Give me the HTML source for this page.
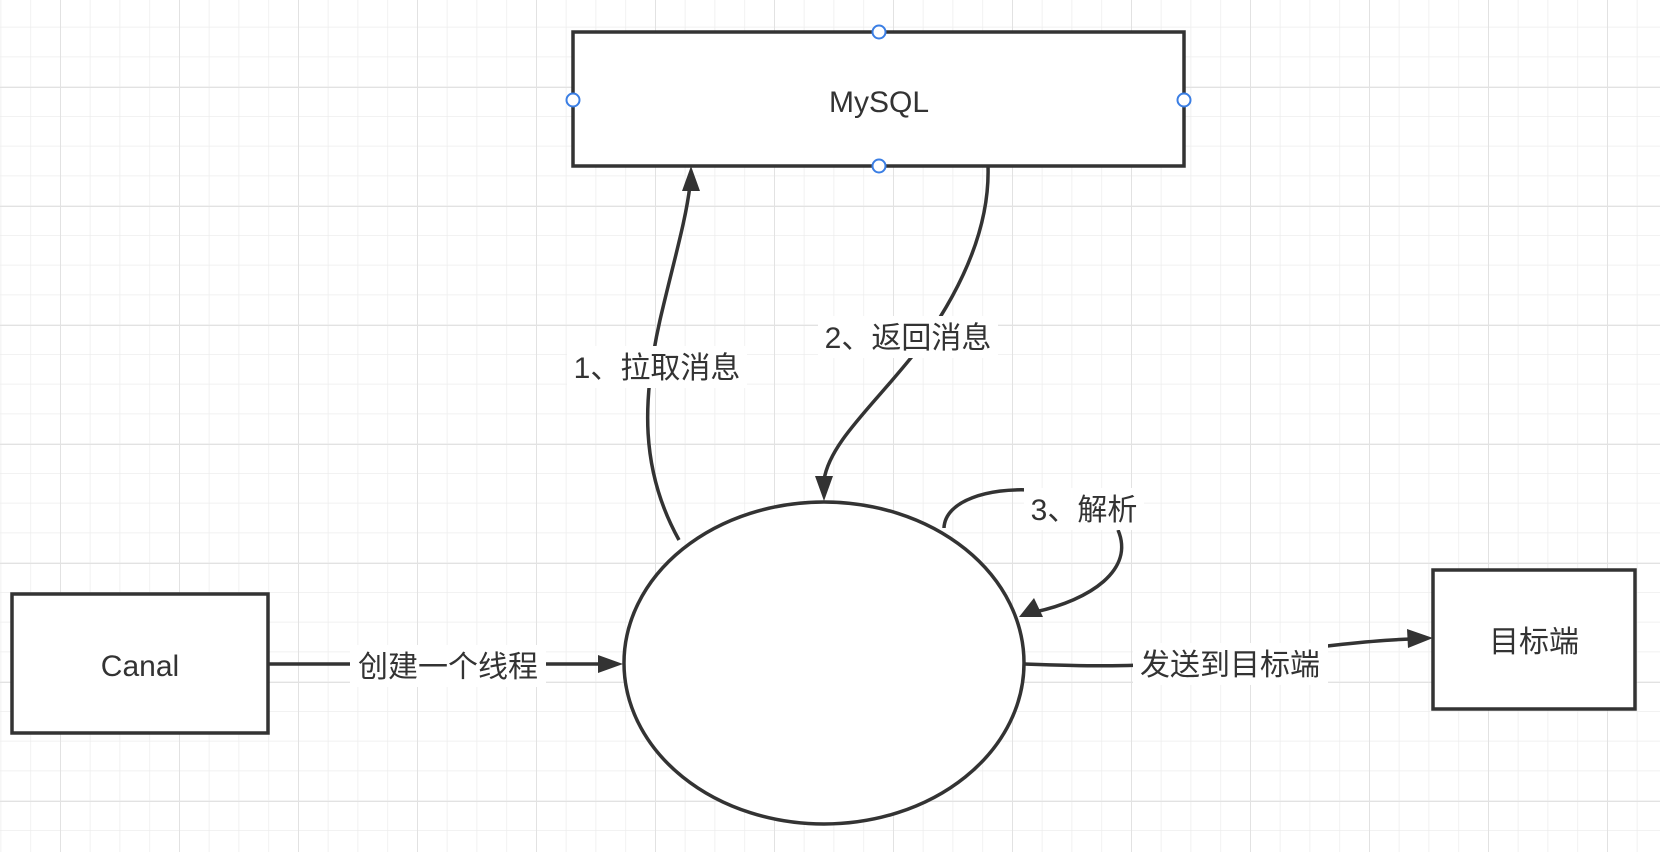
<!DOCTYPE html>
<html><head><meta charset="utf-8"><style>
html,body{margin:0;padding:0;width:1660px;height:852px;overflow:hidden;background:#fff}
svg{display:block}
text{font-family:"Liberation Sans","Noto Sans CJK SC",sans-serif;fill:#333;font-size:30px}
</style></head><body>
<svg width="1660" height="852" viewBox="0 0 1660 852" xmlns="http://www.w3.org/2000/svg">
<defs>
<pattern id="g" x="0.5" y="-3" width="29.75" height="29.75" patternUnits="userSpaceOnUse">
<path d="M0 0V29.75M0 0H29.75" stroke="#ededed" stroke-width="1.5" fill="none"/>
</pattern>
<pattern id="G" x="60" y="87" width="119" height="119" patternUnits="userSpaceOnUse">
<path d="M0 0V119M0 0H119" stroke="#e2e2e2" stroke-width="2" fill="none"/>
</pattern>
</defs>
<rect width="1660" height="852" fill="#fff"/>
<rect width="1660" height="852" fill="url(#g)"/>
<rect width="1660" height="852" fill="url(#G)"/>

<g stroke="#333" stroke-width="3.5" fill="#fff">
<rect x="573" y="32" width="611" height="134"/>
<rect x="12" y="594" width="256" height="139"/>
<rect x="1433" y="570" width="202" height="139"/>
<ellipse cx="824" cy="663" rx="200" ry="161"/>
</g>
<g fill="#fff" stroke="#3a7ee4" stroke-width="2">
<circle cx="879" cy="32" r="6.5"/><circle cx="573" cy="100" r="6.5"/>
<circle cx="1184" cy="100" r="6.5"/><circle cx="879" cy="166" r="6.5"/>
</g>
<text x="879" y="112" text-anchor="middle">MySQL</text>
<text x="140" y="676" text-anchor="middle">Canal</text>
<text x="1534" y="652" text-anchor="middle">目标端</text>

<g stroke="#333" stroke-width="3.5" fill="none">
<path d="M679 540 C640 470 642 400 660 320 C674 260 686 220 690 185"/>
<path d="M988 166 C990 230 960 290 925 340 C880 400 830 440 824 480"/>
<path d="M944 528 C945 500 990 488 1030 490"/>
<path d="M1118 530 C1135 570 1090 600 1035 612"/>
<path d="M268 664 H600"/>
<path d="M1025 664 C1080 666 1130 668 1230 660 C1320 645 1380 640 1412 639"/>
</g>
<g fill="#333">
<polygon points="691,166 682,191 700,191"/>
<polygon points="824,501 815,476 833,476"/>
<polygon points="1019,617 1034,598 1043,617"/>
<polygon points="623,664 598,655 598,673"/>
<polygon points="1433,638 1407,629 1408,648"/>
</g>
<g fill="#fff">
<rect x="567" y="346" width="180" height="42"/>
<rect x="818" y="316" width="180" height="42"/>
<rect x="1024" y="488" width="120" height="42"/>
<rect x="350" y="645" width="196" height="42"/>
<rect x="1133" y="643" width="195" height="42"/>
</g>
<text x="657" y="378" text-anchor="middle">1、拉取消息</text>
<text x="908" y="348" text-anchor="middle">2、返回消息</text>
<text x="1084" y="520" text-anchor="middle">3、解析</text>
<text x="448" y="677" text-anchor="middle">创建一个线程</text>
<text x="1230" y="675" text-anchor="middle">发送到目标端</text>
</svg>
</body></html>
